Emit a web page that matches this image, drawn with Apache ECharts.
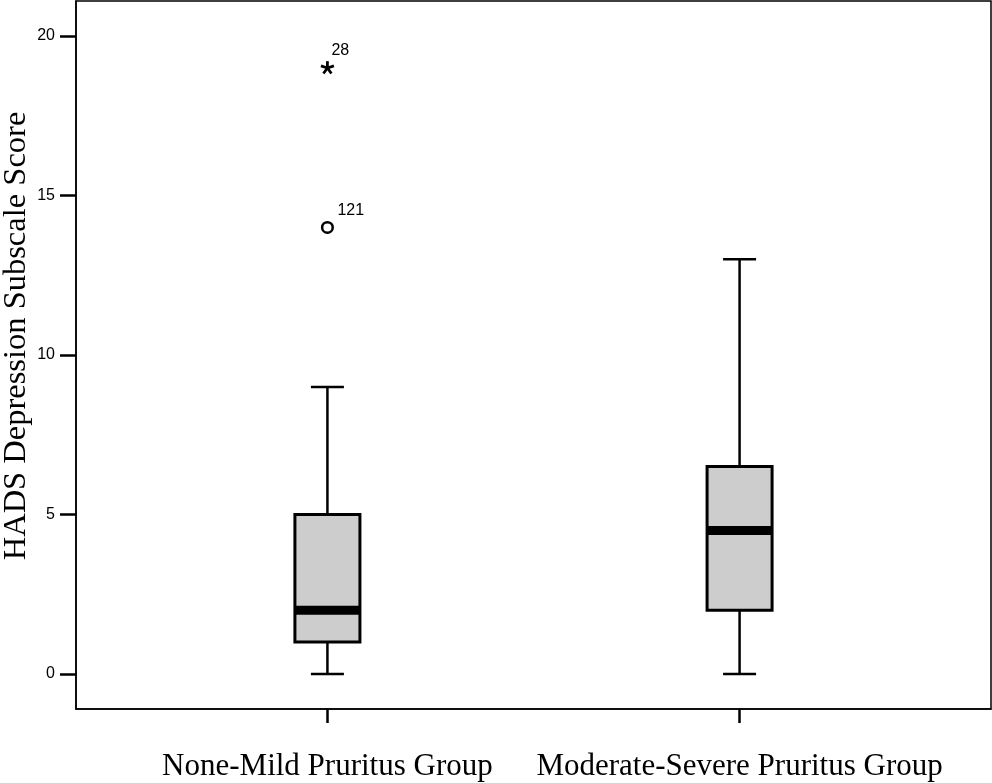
<!DOCTYPE html>
<html>
<head>
<meta charset="utf-8">
<script src="https://cdn.jsdelivr.net/npm/echarts@6/dist/echarts.min.js"></script>
<style>
html,body{margin:0;padding:0;background:#fff;}
#chart{width:992px;height:783px;}
</style>
</head>
<body>
<div id="chart"></div>
<script>
// ---- data ----
const categories = ['None-Mild Pruritus Group', 'Moderate-Severe Pruritus Group'];
const lowerWhisker = [0, 0];
const quartile1 = [1, 2];
const medians = [2, 4.5];
const quartile3 = [5, 6.5];
const upperWhisker = [9, 13];
const extremeGroup = [0];
const extremeValue = [19];
const extremeCase = ['28'];
const outlierGroup = [0];
const outlierValue = [14];
const outlierCase = ['121'];
const yTicks = [0, 5, 10, 15, 20];
const yAxisTitle = 'HADS Depression Subscale Score';

// ---- build ----
const chart = echarts.init(document.getElementById('chart'), null, {renderer: 'canvas'});
const xPositions = categories.map((c, i) => i + 1);
const boxData = categories.map((c, i) => [i + 1, lowerWhisker[i], quartile1[i], medians[i], quartile3[i], upperWhisker[i]]);
const pointData = [];
extremeValue.forEach((v, i) => pointData.push([extremeGroup[i] + 1, v, 0, extremeCase[i]]));
outlierValue.forEach((v, i) => pointData.push([outlierGroup[i] + 1, v, 1, outlierCase[i]]));

const BOX_HALF = 32.5, CAP_HALF = 16.5, LW = 2.5;

function renderBox(params, api) {
  const x = api.value(0);
  const pLo = api.coord([x, api.value(1)]);
  const pQ1 = api.coord([x, api.value(2)]);
  const pMed = api.coord([x, api.value(3)]);
  const pQ3 = api.coord([x, api.value(4)]);
  const pHi = api.coord([x, api.value(5)]);
  const cx = pLo[0];
  const ls = {stroke: '#000', lineWidth: LW};
  return {
    type: 'group',
    children: [
      {type: 'line', shape: {x1: cx, y1: pLo[1], x2: cx, y2: pQ1[1]}, style: ls},
      {type: 'line', shape: {x1: cx, y1: pQ3[1], x2: cx, y2: pHi[1]}, style: ls},
      {type: 'line', shape: {x1: cx - CAP_HALF, y1: pLo[1], x2: cx + CAP_HALF, y2: pLo[1]}, style: ls},
      {type: 'line', shape: {x1: cx - CAP_HALF, y1: pHi[1], x2: cx + CAP_HALF, y2: pHi[1]}, style: ls},
      {type: 'rect', shape: {x: cx - BOX_HALF, y: pQ3[1], width: BOX_HALF * 2, height: pQ1[1] - pQ3[1]},
        style: {fill: '#cdcdcd', stroke: '#000', lineWidth: LW + 0.5}},
      {type: 'rect', shape: {x: cx - BOX_HALF, y: pMed[1] - 4.5, width: BOX_HALF * 2, height: 9},
        style: {fill: '#000'}}
    ]
  };
}

function renderPoint(params, api) {
  const p = api.coord([api.value(0), api.value(1)]);
  const kind = api.value(2);
  const label = pointData[params.dataIndex][3];
  const children = [];
  const font = '16px "Liberation Sans", Arial, sans-serif';
  if (kind === 0) {
    const L = 6.8;
    for (let k = 0; k < 5; k++) {
      const a = -Math.PI / 2 + k * 2 * Math.PI / 5;
      children.push({type: 'line', shape: {x1: p[0], y1: p[1], x2: p[0] + L * Math.cos(a), y2: p[1] + L * Math.sin(a)},
        style: {stroke: '#000', lineWidth: 2.8, lineCap: 'butt'}});
    }
    children.push({type: 'text', x: p[0] + 4, y: p[1] - 17,
      style: {text: label, fill: '#000', font: font, align: 'left', verticalAlign: 'middle'}});
  } else {
    children.push({type: 'circle', shape: {cx: p[0], cy: p[1], r: 5.3},
      style: {fill: '#fff', stroke: '#000', lineWidth: 2.5}});
    children.push({type: 'text', x: p[0] + 10, y: p[1] - 17,
      style: {text: label, fill: '#000', font: font, align: 'left', verticalAlign: 'middle'}});
  }
  return {type: 'group', children};
}

const option = {
  backgroundColor: '#fff',
  animation: false,
  grid: {left: 76, right: 1, top: 1, bottom: 74, containLabel: false, outerBoundsMode: 'none',
    show: true, borderColor: '#000', borderWidth: 1.5, backgroundColor: 'transparent'},
  xAxis: {
    type: 'value', min: 0.39, max: 2.61,
    axisLine: {show: true, onZero: false, lineStyle: {color: '#000', width: 1.5}},
    axisTick: {show: true, customValues: xPositions, length: 14, lineStyle: {color: '#000', width: 2.5}},
    axisLabel: {show: true, customValues: xPositions, margin: 42,
      formatter: v => categories[Math.round(v) - 1] || '',
      color: '#000', fontFamily: '"Liberation Serif", "Times New Roman", serif', fontSize: 31},
    splitLine: {show: false}
  },
  yAxis: {
    type: 'value', min: -1.1, max: 21.1,
    name: yAxisTitle, nameLocation: 'middle', nameGap: 43, nameRotate: 90, nameMoveOverlap: false,
    nameTextStyle: {color: '#000', fontFamily: '"Liberation Serif", "Times New Roman", serif', fontSize: 32.5, padding: [0, 0, 0, 38]},
    axisLine: {show: true, onZero: false, lineStyle: {color: '#000', width: 1.5}},
    axisTick: {show: true, customValues: yTicks, length: 16, lineStyle: {color: '#000', width: 2.5}},
    axisLabel: {show: true, customValues: yTicks, margin: 21, color: '#000',
      fontFamily: '"Liberation Sans", Arial, sans-serif', fontSize: 16},
    splitLine: {show: false}
  },
  series: [
    {type: 'custom', renderItem: renderBox, data: boxData, encode: {x: 0, y: [1, 2, 3, 4, 5]}, clip: false},
    {type: 'custom', renderItem: renderPoint, data: pointData, encode: {x: 0, y: 1}, clip: false}
  ]
};
chart.setOption(option);
</script>
</body>
</html>
